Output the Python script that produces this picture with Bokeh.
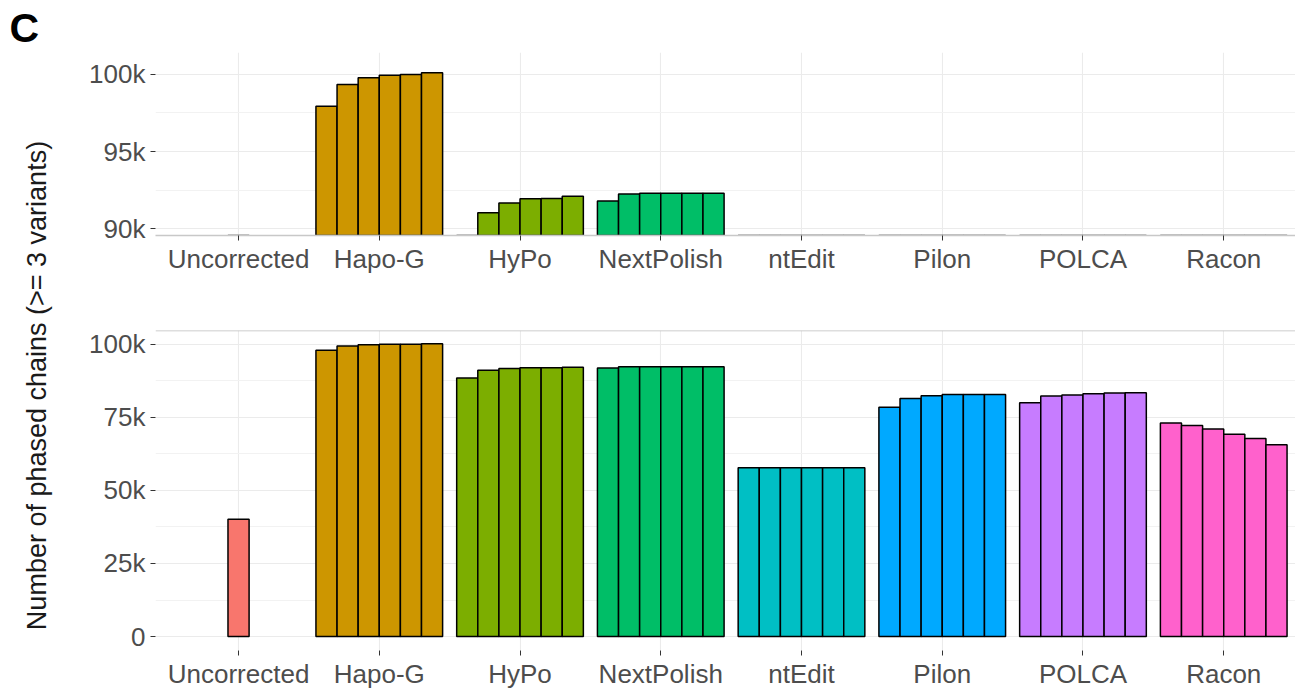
import math

from bokeh.plotting import figure
from bokeh.layouts import row, column
from bokeh.models import ColumnDataSource, Range1d, FixedTicker, Span
from bokeh.core.properties import value
from bokeh.embed import file_html
from bokeh.resources import INLINE

# ---- data: phased chains (>= 3 variants) per polishing round ----
methods = ["Uncorrected", "Hapo-G", "HyPo", "NextPolish", "ntEdit", "Pilon", "POLCA", "Racon"]
method_colors = ["#F8766D", "#CD9600", "#7CAE00", "#00BE67", "#00BFC4", "#00A9FF", "#C77CFF", "#FF61CC"]

uncorrected = [40100]
hapo_g = [97930, 99350, 99790, 99950, 100000, 100110]
hypo = [88450, 91040, 91660, 91940, 91960, 92110]
nextpolish = [91800, 92250, 92300, 92300, 92300, 92300]
ntedit = [57700, 57700, 57700, 57700, 57700, 57700]
pilon = [78400, 81450, 82330, 82800, 82800, 82800]
polca = [79950, 82230, 82570, 83010, 83250, 83350]
racon = [73050, 72140, 71020, 69210, 67720, 65580]

series = [uncorrected, hapo_g, hypo, nextpolish, ntedit, pilon, polca, racon]

top_ticks = [90000, 95000, 100000]
top_minor = [92500, 97500]
bottom_ticks = [0, 25000, 50000, 75000, 100000]
bottom_minor = [12500, 37500, 62500, 87500]

# ---- style ----
FONT = "Liberation Sans"
BAR_W = 0.15
GRID = "#EBEBEB"
MINOR_GRID = "#F2F2F2"
TICK_COLOR = "#333333"
LABEL_COLOR = "#4D4D4D"

# dodge each round within its method group
xs, tops, fills = [], [], []
for i, vals in enumerate(series):
    n = len(vals)
    for k, v in enumerate(vals):
        xs.append(i + (k - (n - 1) / 2) * BAR_W)
        tops.append(v)
        fills.append(method_colors[i])


def k_label(t):
    return f"{t // 1000}k" if t else "0"


def panel(height, y_start, y_end, ticks, minor, border_top, border_bottom):
    p = figure(width=1230, height=height,
               x_range=Range1d(-0.59, 7.51), y_range=Range1d(y_start, y_end),
               toolbar_location=None, output_backend="svg",
               min_border_left=90, min_border_right=0,
               min_border_top=border_top, min_border_bottom=border_bottom)
    p.outline_line_color = None
    p.background_fill_color = "white"
    p.border_fill_color = "white"

    src = ColumnDataSource(dict(x=xs, top=tops, color=fills))
    p.vbar(x="x", top="top", bottom=0, width=BAR_W, source=src,
           fill_color="color", line_color="black", line_width=1.5)

    # x axis: methods
    p.xaxis.ticker = FixedTicker(ticks=list(range(len(methods))))
    p.xaxis.major_label_overrides = {i: m for i, m in enumerate(methods)}
    p.xaxis.minor_tick_line_color = None
    p.xaxis.major_tick_in = 0
    p.xaxis.major_tick_out = 5
    p.xaxis.major_tick_line_color = TICK_COLOR
    p.xaxis.major_label_standoff = 3
    p.xaxis.major_label_text_font = FONT
    p.xaxis.major_label_text_font_size = "26px"
    p.xaxis.major_label_text_color = LABEL_COLOR

    # y axis
    p.yaxis.ticker = FixedTicker(ticks=ticks, minor_ticks=minor)
    p.yaxis.major_label_overrides = {t: k_label(t) for t in ticks}
    p.yaxis.axis_line_color = None
    p.yaxis.minor_tick_line_color = None
    p.yaxis.major_tick_in = 0
    p.yaxis.major_tick_out = 5
    p.yaxis.major_tick_line_color = TICK_COLOR
    p.yaxis.major_label_standoff = 5
    p.yaxis.major_label_text_font = FONT
    p.yaxis.major_label_text_font_size = "26px"
    p.yaxis.major_label_text_color = LABEL_COLOR

    p.xgrid.grid_line_color = GRID
    p.xgrid.grid_line_width = 1.1
    p.ygrid.grid_line_color = GRID
    p.ygrid.grid_line_width = 1.1
    p.ygrid.minor_grid_line_color = MINOR_GRID
    p.ygrid.minor_grid_line_width = 1.0
    return p


# zoomed panel (upper) and full panel (lower)
p_top = panel(290, 89560, 101420, top_ticks, top_minor, 52, 55)
p_top.xaxis.axis_line_color = "#C8C8C8"
p_top.xaxis.axis_line_width = 1.5

p_bot = panel(401, -4760, 104660, bottom_ticks, bottom_minor, 40, 39)
p_bot.xaxis.axis_line_color = None
p_bot.add_layout(Span(location=104660, dimension="width",
                      line_color="#BDBDBD", line_width=1.5))

# left strip holding the panel letter and the shared y-axis title
p_left = figure(width=65, height=691, x_range=Range1d(0, 65), y_range=Range1d(0, 691),
                toolbar_location=None, output_backend="svg", min_border=0)
p_left.axis.visible = False
p_left.grid.visible = False
p_left.outline_line_color = None
p_left.text(x=[9], y=[664], text=["C"], text_font=value(FONT),
            text_font_size="41px", text_font_style="bold", text_color="black",
            text_align="left", text_baseline="middle")
p_left.text(x=[36], y=[306], text=["Number of phased chains (>= 3 variants)"],
            angle=math.pi / 2, text_font=value(FONT), text_font_size="27px",
            text_color="#1A1A1A", text_align="center", text_baseline="middle")

layout = row(p_left, column(p_top, p_bot, spacing=0), spacing=0)

open("out.html", "w").write(file_html(layout, INLINE))
